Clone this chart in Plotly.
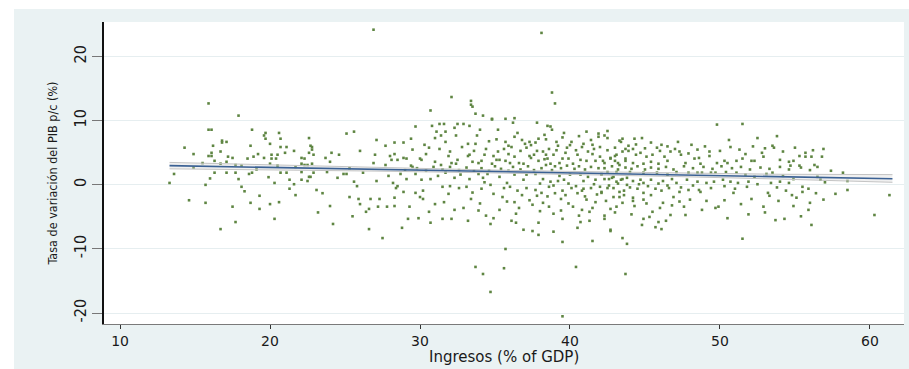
import plotly.graph_objects as go

# Observations: (revenue as % of GDP, growth rate of GDP per capita in %)
obs = [
    # low-revenue economies (13-29 % of GDP)
    (16.1, 8.6), (15.9, 8.6), (18.8, 8.6), (19.7, 8.1), (20.6, 8.1), (19.6, 7.7), (19.7, 7.2), (20.7, 7.2),
    (22.6, 7.3), (25.1, 8.0), (25.6, 8.3), (27.1, 7.0), (16.8, 6.9), (17.1, 6.7), (16.8, 6.6), (16.2, 6.1),
    (18.7, 6.1), (20.0, 6.4), (20.7, 5.9), (21.1, 5.9), (22.7, 6.1), (22.8, 5.9), (22.8, 5.5), (27.7, 6.1),
    (28.3, 6.6), (14.3, 5.8), (16.7, 5.2), (21.6, 5.3), (22.6, 5.0), (14.9, 4.8), (16.1, 5.0), (15.9, 4.5),
    (16.1, 4.5), (19.2, 4.8), (20.1, 4.7), (20.5, 4.7), (21.0, 5.0), (22.9, 4.7), (24.1, 5.0), (24.6, 4.7),
    (26.0, 5.3), (28.0, 4.5), (17.2, 4.4), (17.5, 4.2), (18.5, 4.1), (18.9, 4.4), (19.6, 4.2), (20.1, 4.1),
    (20.4, 4.1), (22.1, 4.2), (22.3, 4.1), (23.7, 4.2), (27.0, 4.7), (28.1, 3.9), (28.5, 3.9), (16.3, 3.75),
    (16.7, 3.3), (17.1, 3.6), (17.7, 3.1), (18.1, 3.0), (20.0, 3.3), (20.5, 3.0), (21.7, 2.8), (22.1, 3.3),
    (22.3, 3.1), (22.5, 3.1), (22.8, 3.3), (24.0, 3.6), (27.7, 3.1), (13.6, 1.7), (16.3, 1.9), (17.1, 1.9),
    (17.7, 1.9), (18.6, 1.7), (18.8, 1.9), (20.7, 1.9), (21.1, 1.9), (22.1, 2.0), (22.9, 1.9), (23.8, 2.0),
    (24.9, 1.7), (25.1, 1.7), (27.9, 1.4), (22.6, 1.25), (22.7, 1.25), (21.3, 0.8), (22.1, 0.8), (22.5, 0.6),
    (25.6, 0.5), (27.1, 0.6), (28.2, 0.3), (13.3, 0.3), (15.7, 0.0), (20.3, 0.3), (25.8, -0.2), (28.5, -0.2),
    (18.1, -0.3), (21.3, -0.6), (23.1, -0.8), (21.7, -1.6), (19.3, -1.7), (25.3, -1.9), (25.9, -2.2),
    (26.7, -2.2), (27.3, -2.2), (28.3, -2.0), (15.7, -2.8), (18.7, -2.8), (20.6, -2.7), (20.0, -3.0),
    (26.0, -3.0), (17.5, -3.4), (19.3, -3.75), (24.0, -3.3), (26.6, -3.75), (27.2, -3.4), (27.8, -3.4),
    (28.3, -3.3), (26.4, -4.2), (20.3, -5.3), (17.7, -5.8), (24.2, -6.1), (16.7, -6.9), (26.6, -6.9),
    (27.5, -8.3), (15.9, 12.7), (17.9, 10.8), (28.8, -6.7),
    (14.9, 2.7), (15.5, 3.4), (16.0, 1.0), (17.9, 0.9), (19.1, 2.4), (19.9, 1.2), (21.6, 0.1), (23.5, -1.3),
    (24.5, 1.1), (25.3, 2.6), (26.2, 1.9), (26.9, 3.4), (14.6, -2.4), (23.2, -4.3), (25.5, -4.9), (18.3, -1.0),
    # outliers
    (26.9, 24.2), (38.1, 23.7), (32.1, 13.7), (33.4, 13.1), (33.4, 12.5), (33.5, 12.2), (30.7, 11.6),
    (33.7, 11.1), (34.2, 10.8), (34.8, 10.3), (35.7, 10.3), (36.3, 10.4), (38.8, 14.4), (39.0, 12.7),
    (30.7, -5.9), (33.2, -5.6), (34.7, -6.1), (36.1, -5.6), (36.4, -5.9), (36.9, -7.0), (37.5, -7.2),
    (37.9, -7.8), (37.9, -5.9), (39.5, -8.9), (40.5, -6.7), (40.7, -5.8), (41.3, -5.6), (41.5, -8.75),
    (35.7, -10.0), (33.7, -12.8), (34.2, -13.9), (35.6, -13.0), (34.7, -16.7), (40.4, -12.8), (39.5, -20.5),
    (43.7, -13.9),
    # mid-revenue economies (29-44 % of GDP)
    (29.7, 9.1), (30.8, 9.2), (31.3, 9.5), (31.6, 9.5), (32.5, 9.5), (32.9, 9.5), (33.3, 9.2), (34.8, 10.2),
    (36.2, 9.7), (37.8, 9.7), (38.5, 9.2), (38.7, 9.1), (38.8, 8.6), (39.6, 8.1), (41.1, 8.3), (41.9, 8.0),
    (42.3, 7.7), (42.5, 8.4), (31.1, 8.3), (31.4, 7.7), (31.7, 8.3), (32.4, 7.7), (33.8, 7.7), (35.2, 8.6),
    (36.5, 8.1), (36.3, 7.5), (38.3, 7.8), (29.4, 7.2), (28.9, 6.6), (30.3, 6.25), (31.7, 6.7), (33.2, 6.4),
    (33.7, 6.4), (35.7, 6.7), (35.9, 6.1), (37.0, 6.4), (37.3, 6.7), (37.7, 6.6), (39.1, 6.7), (40.1, 6.7),
    (40.9, 6.4), (41.5, 6.25), (41.9, 7.5), (42.5, 7.3), (43.3, 6.9), (43.4, 6.7), (43.5, 7.2), (28.3, 4.8),
    (28.9, 4.2), (29.1, 4.1), (30.0, 4.1), (30.1, 3.9), (30.4, 4.8), (29.4, 3.0), (29.5, 2.8), (31.0, 3.6),
    (31.4, 3.1), (31.9, 4.5), (32.0, 5.2), (32.1, 3.4), (32.4, 3.3), (32.5, 3.9), (33.2, 4.5), (33.3, 4.7),
    (33.5, 3.6), (33.9, 3.4), (34.1, 3.75), (34.3, 4.7), (34.4, 5.6), (34.8, 3.3), (34.9, 4.5), (35.1, 3.9),
    (35.3, 3.9), (35.7, 3.75), (35.9, 4.8), (36.0, 3.4), (36.3, 4.4), (36.6, 3.4), (36.9, 3.3), (37.1, 5.8),
    (37.3, 4.5), (37.4, 4.2), (37.6, 4.7), (37.8, 5.3), (37.9, 3.75), (38.2, 5.2), (38.4, 4.7), (38.5, 4.1),
    (38.7, 3.3), (38.9, 4.7), (39.3, 3.4), (39.5, 4.1), (39.7, 5.0), (39.9, 4.1), (40.2, 3.3), (40.5, 4.7),
    (40.7, 3.9), (41.1, 3.75), (41.5, 4.8), (41.7, 3.75), (42.0, 4.4), (42.3, 3.4), (42.7, 4.1), (43.0, 4.5),
    (43.2, 3.4), (43.5, 5.2), (43.7, 3.75), (28.7, 1.7), (29.1, 0.9), (29.7, 1.7), (30.1, 0.8), (30.7, 0.9),
    (31.2, 1.4), (31.7, 1.9), (32.3, 1.1), (32.7, 1.6), (33.3, 0.9), (33.9, 1.7), (34.2, 1.1), (34.5, 1.7),
    (35.3, 1.25), (35.8, 0.3), (36.3, 1.6), (36.9, 0.8), (37.1, 1.6), (37.7, 1.7), (38.2, 0.9), (38.7, 0.5),
    (39.3, 1.4), (39.6, 0.8), (40.0, 1.6), (40.7, 1.6), (40.9, 0.6), (41.2, 1.25), (41.7, 0.8), (42.1, 1.6),
    (42.6, 0.9), (42.9, 1.25), (43.4, 0.8), (43.8, 1.1), (28.4, -0.5), (28.9, -1.1), (29.7, -1.25),
    (30.2, -0.9), (31.5, -0.3), (32.0, -0.2), (32.6, -0.5), (33.1, -0.3), (34.1, -0.6), (34.7, 0.0),
    (35.6, -0.5), (36.5, -0.9), (37.1, -0.5), (37.7, -0.8), (38.1, -1.25), (38.6, -0.3), (39.5, -0.9),
    (40.1, -0.5), (40.8, -0.9), (41.4, -0.5), (42.1, -1.1), (42.9, -0.5), (43.6, -0.9), (30.2, -2.2),
    (31.6, -2.7), (32.9, -3.6), (33.4, -2.2), (35.3, -3.9), (36.3, -2.7), (37.8, -1.7), (38.2, -2.8),
    (38.9, -4.5), (39.4, -2.2), (40.2, -3.4), (41.1, -2.3), (41.5, -3.6), (42.7, -3.75), (43.3, -1.9),
    (43.5, -2.8), (29.2, -5.3), (29.9, -5.2), (31.5, -5.3), (32.1, -5.3), (34.4, -4.8), (34.9, -5.2),
    (36.4, -4.5), (39.5, -5.3), (42.3, -5.3), (42.7, -7.0), (43.5, -8.3), (38.9, -7.3),
    (34.1, 2.6), (34.6, 2.2), (35.0, 2.9), (35.4, 2.5), (35.9, 2.2), (36.2, 2.8), (36.7, 2.4), (37.2, 2.9),
    (37.6, 2.3), (34.3, 0.4), (34.9, -1.4), (35.5, -1.9), (36.0, -0.3), (36.8, -1.6), (37.3, -2.4),
    (35.2, 5.2), (35.6, 5.6), (36.1, 5.9), (36.7, 5.3), (37.4, 6.2), (34.6, 6.8), (35.1, 7.1), (36.8, 7.0),
    (37.9, 7.2), (34.0, -2.9), (35.8, -2.6), (36.6, -3.6), (37.5, -3.1),
    (38.1, 2.6), (38.4, 3.1), (38.8, 2.3), (39.0, 2.9), (39.4, 2.6), (39.8, 3.0), (40.3, 2.5), (40.6, 2.9),
    (41.0, 2.4), (41.4, 2.8), (41.9, 2.6), (38.3, 4.0), (38.6, 5.6), (39.1, 5.4), (39.2, 6.1), (39.8, 5.8),
    (40.0, 6.2), (40.4, 5.4), (40.8, 5.9), (41.2, 5.2), (41.6, 5.6), (42.0, 5.9), (38.0, 0.2), (38.9, -0.1),
    (39.2, 0.6), (39.9, 0.2), (40.4, -0.2), (40.9, -0.6), (41.6, 0.1), (42.0, -0.3), (38.5, -1.8),
    (39.0, -1.3), (39.7, -1.6), (40.5, -1.3), (41.0, -1.8), (41.8, -1.5), (38.6, -3.4), (39.9, -2.9),
    (40.8, -3.9), (41.7, -2.7), (38.0, -4.1), (39.4, -4.0), (40.6, -4.8), (41.3, -4.2), (38.4, 7.1),
    (39.5, 7.4), (40.6, 7.6), (41.4, 7.0),
    (29.0, 2.3), (29.8, 2.6), (30.4, 2.2), (30.9, 2.8), (31.5, 2.4), (32.0, 2.8), (32.6, 2.3), (33.1, 2.7),
    (33.6, 2.2), (29.5, 5.5), (30.6, 5.8), (31.3, 5.6), (32.8, 5.9), (33.6, 5.3), (30.0, -1.9), (31.0, -3.0),
    (31.9, -1.4), (32.3, -3.9), (33.5, -1.2), (29.3, -3.4), (30.6, -4.2), (33.9, -4.0), (31.0, 7.3),
    (32.3, 8.9), (34.0, 8.6),
    # high-revenue economies (43-62 % of GDP)
    (44.3, 7.2), (44.8, 7.3), (43.7, 5.6), (43.9, 5.3), (44.2, 5.6), (45.4, 6.6), (46.1, 6.25), (48.1, 6.25),
    (52.5, 7.3), (53.5, 6.1), (53.6, 5.8), (56.9, 5.6), (43.1, 4.7), (42.7, 4.2), (42.2, 3.75), (43.0, 3.75),
    (43.7, 4.1), (44.4, 4.7), (44.7, 5.0), (45.1, 4.4), (45.5, 4.7), (46.0, 5.3), (46.7, 5.2), (46.3, 4.4),
    (47.3, 5.2), (47.4, 4.7), (46.5, 3.75), (45.9, 3.3), (45.4, 3.6), (44.9, 3.3), (44.2, 3.4), (43.3, 3.1),
    (47.7, 3.4), (48.3, 4.1), (48.6, 4.2), (48.7, 3.3), (49.3, 5.2), (49.3, 4.5), (49.8, 3.4), (50.3, 3.75),
    (50.5, 3.4), (51.1, 3.75), (51.7, 4.8), (51.5, 4.1), (52.1, 3.75), (52.3, 3.75), (52.8, 5.0), (52.9, 4.4),
    (54.0, 3.9), (54.6, 3.6), (54.9, 3.75), (55.3, 4.5), (55.7, 5.0), (55.7, 4.4), (56.1, 4.4), (56.3, 3.1),
    (56.5, 2.8), (54.7, 3.0), (55.3, 3.0), (42.5, 2.0), (42.1, 1.7), (43.1, 2.0), (44.0, 2.0), (44.9, 1.9),
    (45.8, 1.9), (46.5, 1.6), (47.1, 2.0), (47.9, 1.9), (48.5, 1.9), (48.8, 1.9), (49.4, 1.9), (49.7, 1.9),
    (50.4, 2.0), (51.1, 1.9), (51.7, 1.6), (52.3, 1.25), (53.1, 1.7), (53.5, 1.9), (54.2, 1.4), (54.9, 0.9),
    (56.5, 1.25), (58.2, 1.9), (58.5, 0.6), (42.3, 0.9), (42.8, 1.1), (43.1, 0.5), (43.5, 0.9), (43.8, 0.0),
    (44.2, 0.6), (44.7, 0.8), (44.9, 0.3), (45.4, 0.8), (46.2, 0.6), (46.8, 0.9), (47.8, 0.8), (48.5, 0.5),
    (49.1, 0.3), (49.6, 0.5), (50.2, 0.8), (50.7, 0.5), (51.2, 0.3), (51.9, 0.5), (53.4, 0.3), (54.0, 0.5),
    (54.6, 0.3), (55.5, -0.3), (56.7, 0.8), (42.1, -1.25), (42.5, -0.5), (42.9, -1.9), (43.3, -1.1),
    (44.2, -2.0), (44.5, -0.6), (44.9, -1.25), (45.4, -1.6), (45.7, -0.6), (46.1, -0.9), (46.6, -0.5),
    (46.9, -1.9), (47.3, -1.1), (47.9, -0.8), (48.0, -2.3), (48.6, -0.8), (48.7, -1.1), (49.1, -2.5),
    (49.7, -3.6), (49.9, -3.4), (48.8, -3.9), (47.6, -3.4), (46.2, -2.8), (44.9, -2.3), (44.2, -2.5),
    (43.1, -3.4), (42.3, -4.8), (50.9, -1.25), (53.2, -1.25), (53.3, -1.7), (54.8, -1.6), (55.5, -1.1),
    (56.9, -2.3), (57.7, -1.4), (58.5, -0.8), (61.3, -1.6), (54.9, -3.3), (55.9, -3.9), (56.0, -2.8),
    (45.5, -4.2), (46.7, -4.7), (47.7, -4.7), (50.5, -5.2), (53.7, -5.5), (56.1, -6.25), (60.3, -4.7),
    (44.9, -5.3), (44.8, -6.25), (45.9, -5.8), (46.1, -6.9), (45.7, -6.6), (42.7, -7.2), (43.8, -9.2),
    (51.5, -8.4),
    (42.3, 2.6), (42.8, 2.9), (43.2, 2.4), (43.7, 2.7), (44.1, 2.5), (44.5, 2.9), (45.0, 2.4), (45.4, 2.7),
    (45.9, 2.5), (46.4, 2.8), (46.9, 2.4), (42.5, 5.4), (43.0, 5.8), (43.9, 6.1), (44.4, 6.3), (45.0, 5.7),
    (45.8, 5.8), (46.5, 6.0), (47.0, 5.6), (42.6, -0.1), (43.2, 0.2), (44.0, -0.4), (44.6, 0.1), (45.2, -0.2),
    (45.9, 0.2), (46.5, -0.1), (47.1, 0.3), (42.4, -2.5), (43.6, -1.6), (44.3, -3.3), (45.1, -2.9),
    (46.0, -3.6), (46.8, -3.2), (47.3, -2.6), (43.0, -4.3), (44.1, -4.6), (45.3, -5.0), (46.4, -5.6),
    (47.6, 2.9), (48.2, 2.6), (48.9, 2.8), (49.5, 2.5), (50.1, 2.9), (50.8, 2.6), (51.4, 2.8), (52.0, 2.4),
    (52.7, 2.7), (53.3, 2.5), (54.0, 2.8), (54.6, 2.4), (55.4, 2.7), (56.0, 2.3), (47.9, 4.9), (48.5, 5.5),
    (49.0, 6.0), (50.0, 5.3), (50.7, 5.9), (51.3, 5.5), (52.2, 6.0), (53.0, 5.7), (54.2, 5.2), (55.0, 5.8),
    (56.2, 5.4), (47.4, -0.4), (48.2, -0.1), (49.4, -0.5), (50.3, -0.2), (51.0, -0.6), (51.8, -0.3),
    (52.5, 0.1), (53.8, -0.4), (54.4, -0.9), (55.9, -0.6), (56.4, -1.3), (50.3, -2.4), (51.4, -3.0),
    (52.1, -2.2), (52.9, -3.4), (53.9, -2.5), (55.1, -2.0), (51.9, -4.6), (53.0, -4.3), (54.3, -5.3),
    (55.4, -4.9), (57.0, 0.4), (57.4, 2.2), (56.8, 4.4), (50.6, 7.0), (49.8, 9.4), (51.5, 9.5), (47.2, 6.7),
    (53.8, 7.6),
]
ingresos = [p[0] for p in obs]
tasa = [p[1] for p in obs]

# Linear fit and its 95% confidence band
fit_x = [13.3, 61.5]
fit_y = [3.0, 0.95]
ci_x = [13.3, 20.0, 27.0, 34.0, 40.0, 47.0, 54.0, 61.5]
ci_hi = [3.5, 3.1, 2.7, 2.35, 2.1, 1.85, 1.65, 1.6]
ci_lo = [2.5, 2.35, 2.15, 1.9, 1.65, 1.3, 0.9, 0.4]

x_ticks = [10, 20, 30, 40, 50, 60]
y_ticks = [-20, -10, 0, 10, 20]

FRAME = "#eaf2f3"
GRID = "#e6eef0"
NARROW = "DejaVu Sans Condensed, Liberation Sans Narrow, sans-serif"

fig = go.Figure()
fig.add_trace(go.Scatter(
    x=ingresos, y=tasa, mode="markers",
    marker=dict(symbol="square", size=2.6, color="#5e8542", line=dict(width=0)),
    showlegend=False, hoverinfo="skip",
))
fig.add_trace(go.Scatter(
    x=ci_x, y=ci_lo, mode="lines", line=dict(color="#c4c4c4", width=1),
    showlegend=False, hoverinfo="skip",
))
fig.add_trace(go.Scatter(
    x=ci_x, y=ci_hi, mode="lines", line=dict(color="#c4c4c4", width=1),
    fill="tonexty", fillcolor="rgba(205,205,205,0.3)",
    showlegend=False, hoverinfo="skip",
))
fig.add_trace(go.Scatter(
    x=fit_x, y=fit_y, mode="lines", line=dict(color="#3b6194", width=1.6),
    showlegend=False, hoverinfo="skip",
))

# Light graph region and white plot region behind the data
fig.add_shape(type="rect", xref="paper", yref="paper",
              x0=-0.1125, x1=1.02, y0=-0.2, y1=1.043,
              fillcolor=FRAME, line=dict(width=0), layer="below")
fig.add_shape(type="rect", xref="paper", yref="paper",
              x0=0, x1=1, y0=0, y1=1,
              fillcolor="white", line=dict(width=0), layer="below")

# x-axis title sits right under the tick labels
fig.add_annotation(text="Ingresos (% of GDP)", xref="paper", yref="paper",
                   x=0.5, y=-0.108, xanchor="center", yanchor="middle", showarrow=False,
                   font=dict(family="DejaVu Sans", size=15, color="#1a1a1a"))

fig.update_layout(
    width=909, height=369, autosize=False,
    margin=dict(l=104, r=5, t=22, b=45),
    paper_bgcolor="white", plot_bgcolor="rgba(0,0,0,0)",
    font=dict(family="DejaVu Sans", color="#1a1a1a"),
)
fig.update_xaxes(
    range=[8.93, 62.27], tickvals=x_ticks, ticktext=[str(v) for v in x_ticks],
    showgrid=False, zeroline=False,
    showline=True, linecolor="#7a7a7a", linewidth=1,
    ticks="outside", ticklen=4, tickcolor="#333333", tickwidth=1,
    tickfont=dict(family="DejaVu Sans", size=14, color="#1a1a1a"),
    automargin=False,
)
fig.update_yaxes(
    range=[-21.7, 25.4], tickvals=y_ticks, ticktext=[str(v) for v in y_ticks],
    showgrid=True, gridcolor=GRID, gridwidth=1, zeroline=False,
    showline=True, linecolor="#111111", linewidth=1.5,
    ticks="outside", ticklen=10, tickcolor="#777777", tickwidth=1,
    tickangle=-90,
    tickfont=dict(family=NARROW, size=16, color="#1a1a1a"),
    title=dict(text="Tasa de variación del PIB p/c (%)", standoff=10,
               font=dict(family=NARROW, size=12.5, color="#1a1a1a")),
    automargin=False,
)

fig.write_html("out.html")
